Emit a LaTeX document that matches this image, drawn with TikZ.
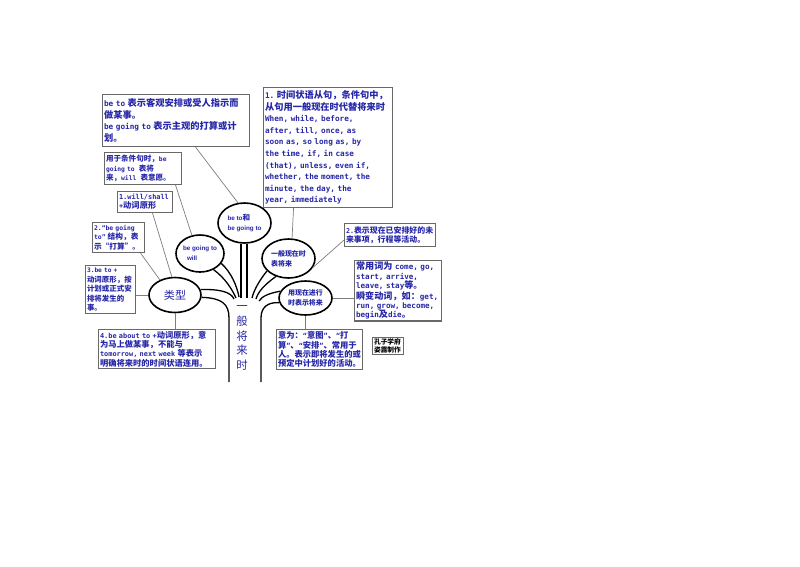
\documentclass[tikz,border=0pt]{standalone}
\usepackage{fontspec}
\setmainfont{DejaVu Sans Mono}
\newfontfamily\cjk[Scale=1.2]{Noto Sans CJK SC}
\newfontfamily\arialf{Liberation Sans}
\usetikzlibrary{shapes.geometric}
\definecolor{bleu}{RGB}{38,38,168}
\definecolor{grisbord}{RGB}{105,105,105}
\definecolor{grislien}{RGB}{125,125,125}
\newcommand{\zh}[1]{{\cjk #1}}
\newcommand{\fs}[2]{\bfseries\fontsize{#1}{#2}\selectfont}
\tikzset{
  cadre/.style = {draw=grisbord, line width=1.1pt, text=bleu, align=left,
    anchor=north west, inner sep=1.5pt},% boite de texte
  bulle/.style = {ellipse, draw=black, line width=1.6pt, inner sep=0pt,
    text=bleu, align=left},% ellipse de l'arbre
  lien/.style = {draw=grislien, line width=0.7pt},% trait fin vers une boite
  branche/.style = {draw=black, line width=1.3pt}% branche de l'arbre
}

\begin{document}
\begin{tikzpicture}[x=1pt,y=-1pt]
\useasboundingbox (0,0) rectangle (800,566);
% boites
\node[cadre, text width=144pt, minimum height=52pt, font=\fs{7.7}{11.5}] (betobox) at (102,94)
  {be to \zh{表示客观安排或受人指示而}\\\zh{做某事。}\\be going to \zh{表示主观的打算或计}\\\zh{划。}};
\node[cadre, text width=126pt, minimum height=120pt, font=\fs{7.7}{11.6}] (clause) at (263,87)
  {1.~\zh{时间状语从句，条件句中，}\\\zh{从句用一般现在时代替将来时}\\When, while, before,\\after, till, once, as\\soon as, so long as, by\\the time, if, in case\\(that), unless, even if,\\whether, the moment, the\\minute, the day, the\\year, immediately};
\node[cadre, text width=74pt, minimum height=32pt, font=\fs{6.3}{9.5}] (cond) at (104,152)
  {\zh{用于条件句时，}be\\going to~~\zh{表将}\\\zh{来，}will~~\zh{表意愿。}};
\node[cadre, text width=52pt, minimum height=21pt, font=\fs{6.9}{9}] (will) at (117,191)
  {1.will/shall\\+\zh{动词原形}};
\node[cadre, text width=49pt, minimum height=30pt, font=\fs{6.4}{9.5}] (bgt) at (92,222)
  {2.“be going\\to” \zh{结构，表}\\\zh{示“打算”。}};
\node[cadre, text width=47pt, minimum height=48pt, font=\fs{6.2}{9.5}] (bet) at (85,265)
  {3.be to +\\\zh{动词原形，按}\\\zh{计划或正式安}\\\zh{排将发生的}\\\zh{事。}};
\node[cadre, text width=114pt, minimum height=39pt, font=\fs{6.9}{9.2}] (about) at (98,329)
  {4.be about to +\zh{动词原形，意}\\\zh{为马上做某事，不能与}\\tomorrow, next week \zh{等表示}\\\zh{明确将来时的时间状语连用。}};
\node[cadre, text width=88pt, minimum height=23pt, font=\fs{6.6}{9.3}] (arr) at (344,223)
  {2.\zh{表示现在已安排好的未}\\\zh{来事项，行程等活动。}};
\node[cadre, text width=84pt, minimum height=58pt, font=\fs{7.6}{9.4}] (verbs) at (354,260)
  {\zh{常用词为} come, go,\\start, arrive,\\leave, stay\zh{等。}\\\zh{瞬变动词，如：}get,\\run, grow, become,\\begin\zh{及}die\zh{。}};
\node[cadre, text width=83pt, minimum height=40pt, font=\fs{6.9}{9.4}] (mean) at (276,329)
  {\zh{意为：}“\zh{意图}”\zh{、}“\zh{打}\\\zh{算}”\zh{、}“\zh{安排}”\zh{、常用于}\\\zh{人。表示即将发生的或}\\\zh{预定中计划好的活动。}};
\node[cadre, text=black, text width=28pt, minimum height=17pt, font=\fs{5.6}{7.5}] (sign) at (372,337)
  {\zh{孔子学府}\\\zh{姿露制作}};
% ellipses
\node[bulle, minimum width=52pt, minimum height=35pt, font=\fontsize{9.2}{11}\selectfont] (type) at (175,295) {\zh{类型}};
\node[bulle, minimum width=48pt, minimum height=37pt, font=\arialf\bfseries\fontsize{6.3}{10}\selectfont] (bgw) at (200,253.5) {be going to\\\hspace{4pt}will};
\node[bulle, minimum width=53pt, minimum height=40pt, font=\arialf\bfseries\fontsize{6.3}{10}\selectfont] (beto) at (244.5,223) {be to\zh{和}\\be going to};
\node[bulle, minimum width=53pt, minimum height=39pt, font=\bfseries\fontsize{5.8}{10}\selectfont] (pres) at (288.5,258.5) {\zh{一般现在时}\\\zh{表将来}};
\node[bulle, minimum width=53pt, minimum height=34pt, font=\bfseries\fontsize{5.8}{10.5}\selectfont] (prog) at (305.5,298) {\zh{用现在进行}\\\zh{时表示将来}};
% tronc
\node[text=bleu, align=center, font=\fontsize{9.5}{14.8}\selectfont\cjk] (trunk) at (242,338) {一\\般\\将\\来\\时};
\draw[branche] (type.-5) .. controls (222,298) and (229,304) .. (229,318) -- (229,382);
\draw[branche] (type.12) .. controls (220,289) and (231,292) .. (234,299);
\draw[branche] (bgw.-50) .. controls (225,278) and (232,289) .. (236,298);
\draw[branche] (bgw.-25) .. controls (231,272) and (237,286) .. (239,297);
\draw[branche] ([xshift=-3.5pt]beto.south) -- ++(0,54);
\draw[branche] ([xshift=2.5pt]beto.south) -- ++(0,54);
\draw[branche] (pres.-150) .. controls (259,281) and (254,290) .. (252,298);
\draw[branche] (pres.-125) .. controls (264,285) and (258,292) .. (256,299);
\draw[branche] (prog.165) .. controls (270,293) and (262,296) .. (259,301);
\draw[branche] (prog.190) .. controls (268,302) and (261,307) .. (261,318) -- (261,382);
% liens
\draw[lien] ([xshift=19.5pt]betobox.south) -- (beto.108);
\draw[lien] ([xshift=-34.5pt]clause.south) -- (pres.80);
\draw[lien] ([xshift=32.5pt]cond.south) -- (bgw.114);
\draw[lien] ([xshift=7.5pt]will.south) -- (type.100);
\draw[lien] ([xshift=22pt]bgt.south) -- (type.135);
\draw[lien] (type.west) -- (type.west -| bet.east);
\draw[lien] (type.south) -- (type.south |- about.north);
\draw[lien] ([yshift=-5pt]arr.west) -- (pres.-20);
\draw[lien] (prog.east) -- (prog.east -| verbs.west);
\draw[lien] (prog.south) -- (prog.south |- mean.north);
\end{tikzpicture}
\end{document}
